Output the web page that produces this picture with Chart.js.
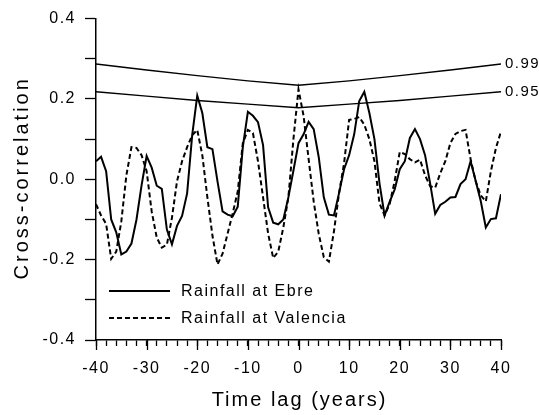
<!DOCTYPE html>
<html>
<head>
<meta charset="utf-8">
<script src="https://cdn.jsdelivr.net/npm/chart.js@4.4.0/dist/chart.umd.min.js"></script>
<style>
  html, body { margin: 0; padding: 0; background: #fff; }
  #wrap { width: 539px; height: 415px; }
</style>
</head>
<body>
<div id="wrap"><canvas id="chart_corr" width="539" height="415"></canvas></div>
<script>
// time lags (years)
const lags = [-40,-39,-38,-37,-36,-35,-34,-33,-32,-31,-30,-29,-28,-27,-26,-25,-24,-23,-22,-21,
  -20,-19,-18,-17,-16,-15,-14,-13,-12,-11,-10,-9,-8,-7,-6,-5,-4,-3,-2,-1,
  0,1,2,3,4,5,6,7,8,9,10,11,12,13,14,15,16,17,18,19,
  20,21,22,23,24,25,26,27,28,29,30,31,32,33,34,35,36,37,38,39,40];

const ebre = [0.045,0.056,0.020,-0.100,-0.132,-0.187,-0.180,-0.160,-0.100,-0.015,
  0.058,0.029,-0.016,-0.024,-0.125,-0.162,-0.116,-0.091,-0.035,0.110,
  0.208,0.165,0.080,0.075,-0.005,-0.080,-0.088,-0.092,-0.068,0.080,
  0.168,0.158,0.142,0.085,-0.070,-0.108,-0.112,-0.100,-0.045,0.022,
  0.090,0.112,0.143,0.125,0.055,-0.045,-0.088,-0.090,-0.035,0.025,
  0.060,0.112,0.195,0.218,0.165,0.100,-0.010,-0.090,-0.056,-0.025,
  0.025,0.045,0.103,0.125,0.100,0.060,-0.010,-0.086,-0.064,-0.056,
  -0.045,-0.044,-0.012,0.000,0.045,-0.004,-0.054,-0.120,-0.099,-0.097,-0.037];

const valencia = [-0.062,-0.090,-0.111,-0.198,-0.180,-0.105,0.010,0.080,0.078,0.060,
  0.020,-0.080,-0.145,-0.170,-0.163,-0.096,-0.005,0.045,0.080,0.110,
  0.123,0.060,-0.045,-0.140,-0.212,-0.185,-0.135,-0.085,-0.030,0.090,
  0.123,0.115,0.045,-0.045,-0.135,-0.196,-0.180,-0.120,-0.045,0.100,
  0.224,0.158,0.050,-0.055,-0.136,-0.194,-0.205,-0.130,-0.035,0.040,
  0.148,0.150,0.155,0.136,0.100,0.045,-0.060,-0.090,-0.062,-0.004,
  0.068,0.063,0.050,0.042,0.049,0.010,-0.017,-0.021,0.015,0.045,
  0.090,0.113,0.120,0.123,0.050,-0.005,-0.040,-0.055,0.020,0.078,0.119];

// significance levels
const sigLags = [-40,-30,-20,-10,0,10,20,30,40];
const sig99 = [0.287,0.272,0.258,0.245,0.234,0.245,0.258,0.272,0.287];
const sig95 = [0.218,0.207,0.196,0.187,0.178,0.187,0.196,0.207,0.218];

const seriesNames = ['Rainfall at Ebre', 'Rainfall at Valencia'];
const sigNames = ['0.99', '0.95'];
const xMajor = [-40,-30,-20,-10,0,10,20,30,40];
const xTitle = 'Time lag (years)';
const yTitle = 'Cross-correlation';

const FONT = '"Liberation Sans", Arial, Helvetica, sans-serif';
Chart.defaults.font.family = FONT;
Chart.defaults.color = '#000';

function pts(xs, ys) {
  return xs.map((x, i) => ({ x: x, y: ys[i] }));
}

const spacing = {
  id: 'spacing',
  beforeUpdate(chart) { chart.ctx.letterSpacing = '1.5px'; },
  beforeDraw(chart) { chart.ctx.letterSpacing = '1.5px'; }
};

const extras = {
  id: 'extras',
  afterDraw(chart) {
    const ctx = chart.ctx;
    const xs = chart.scales.x;
    const area = chart.chartArea;
    ctx.save();
    ctx.letterSpacing = '1.5px';
    // longer ticks at the labelled years
    ctx.strokeStyle = '#000';
    ctx.lineWidth = 1.3;
    xMajor.forEach(v => {
      const px = Math.round(xs.getPixelForValue(v)) + 0.5;
      ctx.beginPath();
      ctx.moveTo(px, area.bottom);
      ctx.lineTo(px, area.bottom + 10);
      ctx.stroke();
    });
    // level labels at line ends
    ctx.font = '15px ' + FONT;
    ctx.fillStyle = '#000';
    ctx.textBaseline = 'middle';
    ctx.textAlign = 'left';
    [2, 3].forEach((di, k) => {
      const meta = chart.getDatasetMeta(di);
      const last = meta.data[meta.data.length - 1];
      ctx.fillText(sigNames[k], last.x + 4, last.y);
    });
    // legend in lower-left of plot
    ctx.font = '16px ' + FONT;
    const rows = [area.bottom - 49, area.bottom - 22];
    [0, 1].forEach(i => {
      const ds = chart.data.datasets[i];
      ctx.lineWidth = ds.borderWidth;
      ctx.setLineDash(ds.borderDash || []);
      ctx.beginPath();
      ctx.moveTo(area.left + 13, rows[i]);
      ctx.lineTo(area.left + 74, rows[i]);
      ctx.stroke();
      ctx.setLineDash([]);
      ctx.fillText(seriesNames[i], area.left + 85, rows[i] + 1);
    });
    // axis titles, wide letter spacing as in the print
    ctx.font = '20px ' + FONT;
    ctx.textAlign = 'center';
    ctx.letterSpacing = '2px';
    ctx.fillText(xTitle, (area.left + area.right) / 2 + 1, 400);
    ctx.letterSpacing = '3px';
    ctx.translate(22, (area.top + area.bottom) / 2);
    ctx.rotate(-Math.PI / 2);
    ctx.fillText(yTitle, 1.5, 0);
    ctx.restore();
  }
};

const ctx = document.getElementById('chart_corr').getContext('2d');
const myChart = new Chart(ctx, {
  type: 'line',
  data: {
    datasets: [
      { label: seriesNames[0], data: pts(lags, ebre), borderColor: '#000', borderWidth: 2, pointRadius: 0, tension: 0 },
      { label: seriesNames[1], data: pts(lags, valencia), borderColor: '#000', borderWidth: 2, borderDash: [5, 3], pointRadius: 0, tension: 0 },
      { label: sigNames[0], data: pts(sigLags, sig99), borderColor: '#000', borderWidth: 1.4, pointRadius: 0, tension: 0 },
      { label: sigNames[1], data: pts(sigLags, sig95), borderColor: '#000', borderWidth: 1.4, pointRadius: 0, tension: 0 }
    ]
  },
  options: {
    responsive: false,
    animation: false,
    devicePixelRatio: 1,
    layout: { padding: { left: 12, top: 16, right: 38, bottom: 5 } },
    plugins: { legend: { display: false }, tooltip: { enabled: false } },
    scales: {
      x: {
        type: 'linear',
        min: -40, max: 40,
        afterFit(scale) { scale.height = 70; },
        border: { display: true, color: '#000', width: 1.5 },
        grid: { drawOnChartArea: false, drawTicks: true, tickLength: 6, color: '#000', tickWidth: 1.3 },
        ticks: {
          stepSize: 2, autoSkip: false, maxRotation: 0, padding: 13,
          font: { size: 16 },
          callback: v => (v % 10 === 0 ? String(v) : '')
        }
      },
      y: {
        min: -0.4, max: 0.4,
        afterFit(scale) { scale.width = 84; },
        border: { display: true, color: '#000', width: 1.5 },
        grid: { drawOnChartArea: false, drawTicks: true, tickLength: 11, color: '#000', tickWidth: 1.3 },
        ticks: {
          stepSize: 0.1, autoSkip: false, padding: 9,
          font: { size: 16 },
          callback: v => (Math.round(v * 10) % 2 === 0 ? v.toFixed(1) : '')
        }
      }
    }
  },
  plugins: [spacing, extras]
});
</script>
</body>
</html>
